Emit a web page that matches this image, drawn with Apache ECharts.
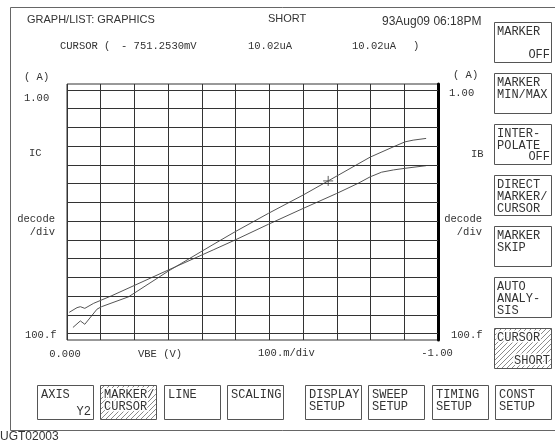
<!DOCTYPE html>
<html><head><meta charset="utf-8">
<script src="https://cdn.jsdelivr.net/npm/echarts@6/dist/echarts.min.js"></script>
<style>html,body{margin:0;padding:0;background:#fff}#c{width:555px;height:440px}</style>
</head><body><div id="c"></div>
<script>
// ---- data ----
const vbeIC = [-0.016,-0.036,-0.048,-0.081,-0.093,-0.166,-0.274,-0.391,-0.453,-0.543,-0.637,-0.704,-0.817,-0.880,-0.911,-0.933,-0.968];
const IC    = [2.1e-13,4.7e-13,3.1e-13,2.0e-12,2.7e-12,9.1e-12,2.2e-10,5.2e-9,2.7e-8,2.6e-7,2.5e-6,1.4e-5,2.6e-4,9.3e-4,1.7e-3,2.1e-3,2.6e-3];
const vbeIB = [-0.006,-0.027,-0.036,-0.048,-0.072,-0.121,-0.274,-0.394,-0.453,-0.543,-0.637,-0.727,-0.785,-0.817,-0.848,-0.880,-0.911,-0.968];
const IB    = [1.35e-12,2.4e-12,2.7e-12,2.2e-12,4.1e-12,1.05e-11,2.5e-10,2.9e-9,9.8e-9,6.8e-8,4.8e-7,3.0e-6,1.05e-5,2.3e-5,4.1e-5,5.4e-5,6.6e-5,9.1e-5];
const decadeExponents = [0,-1,-2,-3,-4,-5,-6,-7,-8,-9,-10,-11,-12,-13];
const cursorVBE = -0.704;
const cursorI = 1.4e-5;
const xTickLabels = ['0.000', '-1.00'];
const yTickLabels = ['1.00', '100.f'];
const headerTitle = 'GRAPH/LIST: GRAPHICS';
const headerMode = 'SHORT';
const headerDate = '93Aug09 06:18PM';
const cursorTexts = ['CURSOR (', '- 751.2530mV', '10.02uA', '10.02uA', ')'];
const sideMenuLines = [['MARKER'],['MARKER','MIN/MAX'],['INTER-','POLATE'],['DIRECT','MARKER/','CURSOR'],['MARKER','SKIP'],['AUTO','ANALY-','SIS'],['CURSOR']];
const sideMenuRight = ['OFF','','OFF','','','','SHORT'];
const bottomMenuLines = [['AXIS'],['MARKER/','CURSOR'],['LINE'],['SCALING'],['DISPLAY','SETUP'],['SWEEP','SETUP'],['TIMING','SETUP'],['CONST','SETUP']];
const bottomMenuRight = ['Y2','','','','','','',''];
const footerId = 'UGT02003';

// ---- drawing ----
const MONO = '"Liberation Mono", "DejaVu Sans Mono", monospace';
const SANS = '"Liberation Sans", Arial, sans-serif';
const INK = '#333';
function hatchCanvas(){
  const c = document.createElement('canvas'); c.width = 5; c.height = 5;
  const g = c.getContext('2d');
  g.fillStyle = '#fff'; g.fillRect(0,0,5,5);
  g.fillStyle = '#8a8a8a';
  for (let i = 0; i < 5; i++) g.fillRect(i, 4 - i, 1, 1);
  return c;
}
const hatch = { image: hatchCanvas(), repeat: 'repeat' };
function txt(s, x, y, font, align){
  return { type:'text', x:x, y:y, z:100, silent:true,
    style:{ text:s, font:font, fill:INK, align:align||'left', textAlign:align||'left', verticalAlign:'middle', textVerticalAlign:'middle' } };
}
function ln(x1,y1,x2,y2,w,c){ return {type:'line', z:90, silent:true, shape:{x1:x1,y1:y1,x2:x2,y2:y2}, style:{stroke:c||'#555', lineWidth:w||1}}; }
const g = [];
// frame
g.push(ln(10.5,7.5,555,7.5,1,'#666'));
g.push(ln(10.5,7.5,10.5,430.5,1,'#666'));
g.push(ln(10.5,430.5,555,430.5,1,'#666'));
// header
g.push(txt(headerTitle, 27, 20, '11px ' + SANS));
g.push(txt(headerMode, 268, 19, '11px ' + SANS));
g.push(txt(headerDate, 382, 22, '12px ' + SANS));
const curX = [60, 121, 248, 352, 413];
cursorTexts.forEach((s,i)=> g.push(txt(s, curX[i], 46, '10.5px ' + MONO)));
// axis captions
const F10 = '10.5px ' + MONO;
g.push(txt('( A)', 24, 77, F10)); g.push(txt(yTickLabels[0], 24, 98, F10));
g.push(txt('IC', 29, 153, F10));
g.push(txt('decode', 55, 219, F10, 'right')); g.push(txt('/div', 55, 232, F10, 'right'));
g.push(txt(yTickLabels[1], 25, 335, F10));
g.push(txt('( A)', 453, 75, F10)); g.push(txt(yTickLabels[0], 449, 93, F10));
g.push(txt('IB', 471, 154, F10));
g.push(txt('decode', 482, 219, F10, 'right')); g.push(txt('/div', 482, 232, F10, 'right'));
g.push(txt(yTickLabels[1], 451, 335, F10));
g.push(txt(xTickLabels[0], 65, 354, F10, 'center'));
g.push(txt('VBE (V)', 138, 354, F10));
g.push(txt('100.m/div', 258, 353, F10));
g.push(txt(xTickLabels[1], 437, 353, F10, 'center'));
// side menu
const F12 = '12px ' + MONO;
sideMenuLines.forEach((lines,i)=>{
  const top = 22 + i*51, h = 40, x = 494, w = 57;
  const hat = (i === 6);
  g.push({type:'rect', z:80, silent:true, shape:{x:x+0.5,y:top+0.5,width:w,height:h}, style:{fill: hat ? hatch : '#fff', stroke:'#555', lineWidth:1}});
  lines.forEach((s,j)=>{ const t = txt(s, x+3, top+10+j*12, F12); if(hat){t.style.stroke='#fff'; t.style.lineWidth=3;} g.push(t); });
  if (sideMenuRight[i]) { const t = txt(sideMenuRight[i], x+w-1, top+h-7, F12, 'right'); if(hat){t.style.stroke='#fff'; t.style.lineWidth=3;} g.push(t); }
});
// bottom menu
bottomMenuLines.forEach((lines,i)=>{
  const x = (i < 4 ? 37 + i*63.3 : 305 + (i-4)*63.3), top = 385, h = 34, w = 56;
  const hat = (i === 1);
  g.push({type:'rect', z:80, silent:true, shape:{x:Math.round(x)+0.5,y:top+0.5,width:w,height:h}, style:{fill: hat ? hatch : '#fff', stroke:'#555', lineWidth:1}});
  lines.forEach((s,j)=>{ const t = txt(s, Math.round(x)+4, top+10+j*12, F12); if(hat){t.style.stroke='#fff'; t.style.lineWidth=3;} g.push(t); });
  if (bottomMenuRight[i]) g.push(txt(bottomMenuRight[i], Math.round(x)+w-2, top+h-7, F12, 'right'));
});
g.push(txt(footerId, 0, 437, '12px ' + SANS));

const toLog = v => Math.log10(v);
const chart = echarts.init(document.getElementById('c'), null, {renderer:'canvas'});
chart.setOption({
  animation: false,
  backgroundColor: '#fff',
  grid: { left: 67, top: 84, width: 371, height: 256, show: true, borderColor: '#333', borderWidth: 1, backgroundColor: 'transparent' },
  xAxis: { type: 'value', min: -1, max: 0, inverse: true, interval: 1/11,
    axisLine: { show: false }, axisTick: { show: false }, axisLabel: { show: false },
    splitLine: { show: true, lineStyle: { color: '#333', width: 1 } } },
  yAxis: { type: 'value', min: -13.347, max: 0.32, position: 'right',
    axisLine: { show: true, onZero: false, lineStyle: { color: '#000', width: 3 } },
    axisTick: { show: false }, axisLabel: { show: false }, splitLine: { show: false } },
  series: [
    { type: 'line', name: 'IC', data: vbeIC.map((v,i)=>[v, toLog(IC[i])]), symbol: 'none', silent: true,
      lineStyle: { color: '#555', width: 1 },
      markLine: { silent: true, symbol: ['none','none'], label: { show: false }, animation: false,
        lineStyle: { color: '#333', width: 1, type: 'solid' }, emphasis: { disabled: true },
        data: decadeExponents.map(d => ({ yAxis: d })) } },
    { type: 'line', name: 'IB', data: vbeIB.map((v,i)=>[v, toLog(IB[i])]), symbol: 'none', silent: true,
      lineStyle: { color: '#555', width: 1 } },
    { type: 'scatter', name: 'cursor', data: [[cursorVBE, toLog(cursorI)]], silent: true,
      symbol: 'path://M5,0L5,10M0,5L10,5', symbolSize: 10,
      itemStyle: { color: 'none', borderColor: '#333', borderWidth: 1 } }
  ],
  graphic: { elements: g }
});
</script></body></html>
